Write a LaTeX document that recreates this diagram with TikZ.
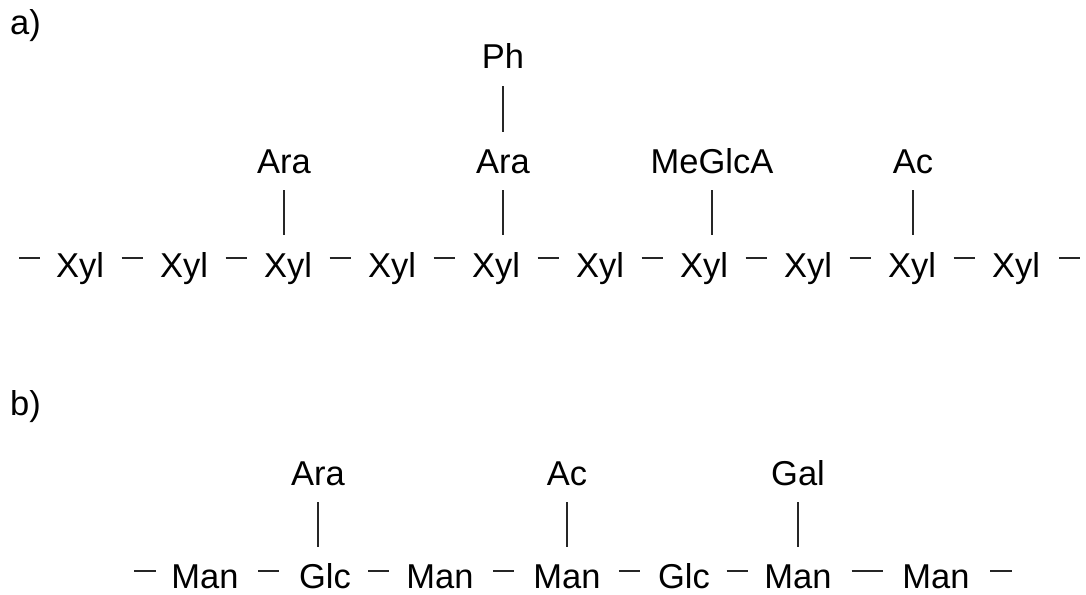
\documentclass[tikz,border=0pt]{standalone}
\usepackage{fontspec}
\setmainfont{Liberation Sans}
\usetikzlibrary{calc}
\begin{document}
\begin{tikzpicture}[x=1pt,y=-1pt,
  lbl/.style={inner sep=0pt,anchor=base,font=\fontsize{34.5}{40}\selectfont},
  bond/.style={line width=1.6pt,draw=black!85}]
\useasboundingbox (0,0) rectangle (1086,594);
% panel labels
\node[lbl,anchor=base west] (pa) at (10,35) {a)};
\node[lbl,anchor=base west] (pb) at (10,415) {b)};
% row a
\foreach \i in {1,...,10}{
  \node[lbl] (x\i) at ({80+104*(\i-1)},277) {Xyl};
}
\foreach \i/\j in {1/2,2/3,3/4,4/5,5/6,6/7,7/8,8/9,9/10}{
  \draw[bond] ($(x\i.base east)!0.5!(x\j.base west)+(-10.5,-19)$) -- ($(x\i.base east)!0.5!(x\j.base west)+(10.5,-19)$);
}
\coordinate (ea1) at (19,258);
\coordinate (ea2) at (40,258);
\coordinate (eb1) at (1059,258);
\coordinate (eb2) at (1080,258);
\draw[bond] (ea1) -- (ea2);
\draw[bond] (eb1) -- (eb2);
% branches row a
\node[lbl] (ara1) at (284,173) {Ara};
\node[lbl] (ara2) at (503,173) {Ara};
\node[lbl] (ph) at (503,68) {Ph};
\node[lbl] (meg) at (712,173) {MeGlcA};
\node[lbl] (ac1) at (913,173) {Ac};
\draw[bond] ($(ara1.base)+(0,17)$) -- ($(ara1.base |- x3.base)+(0,-42)$);
\draw[bond] ($(ara2.base)+(0,17)$) -- ($(ara2.base |- x5.base)+(0,-42)$);
\draw[bond] ($(ph.base)+(0,18)$) -- ($(ph.base |- ara2.base)+(0,-41)$);
\draw[bond] ($(meg.base)+(0,17)$) -- ($(meg.base |- x7.base)+(0,-42)$);
\draw[bond] ($(ac1.base)+(0,17)$) -- ($(ac1.base |- x9.base)+(0,-42)$);
% row b
\node[lbl] (m1) at (205,588) {Man};
\node[lbl] (g1) at (325,588) {Glc};
\node[lbl] (m2) at (440,588) {Man};
\node[lbl] (m3) at (567,588) {Man};
\node[lbl] (g2) at (684,588) {Glc};
\node[lbl] (m4) at (798,588) {Man};
\node[lbl] (m5) at (936,588) {Man};
\foreach \a/\b/\h in {m1/g1/10.5,g1/m2/10.5,m2/m3/10.5,m3/g2/10.5,g2/m4/10.5,m4/m5/15.5}{
  \draw[bond] ($(\a.base east)!0.5!(\b.base west)+(-\h,-17)$) -- ($(\a.base east)!0.5!(\b.base west)+(\h,-17)$);
}
\coordinate (fa1) at (134,571);
\coordinate (fa2) at (156,571);
\coordinate (fb1) at (990,571);
\coordinate (fb2) at (1012,571);
\draw[bond] (fa1) -- (fa2);
\draw[bond] (fb1) -- (fb2);
\node[lbl] (arab) at (318,485) {Ara};
\node[lbl] (acb) at (567,485) {Ac};
\node[lbl] (gal) at (798,485) {Gal};
\draw[bond] ($(arab.base)+(0,17)$) -- ($(arab.base |- m1.base)+(0,-41)$);
\draw[bond] ($(acb.base)+(0,17)$) -- ($(acb.base |- m3.base)+(0,-41)$);
\draw[bond] ($(gal.base)+(0,17)$) -- ($(gal.base |- m4.base)+(0,-41)$);
\end{tikzpicture}
\end{document}
